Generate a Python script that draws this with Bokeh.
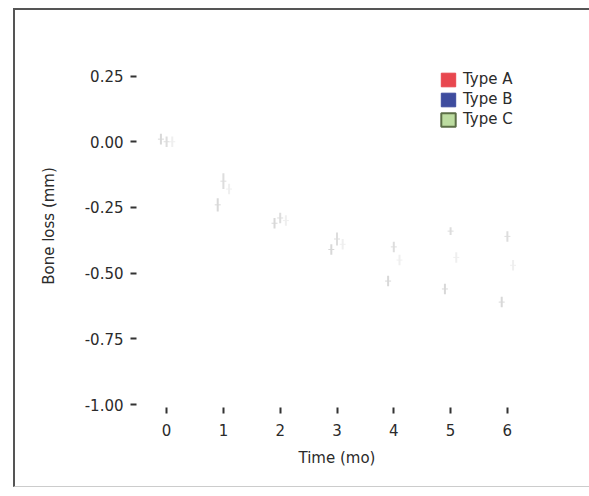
import math
from bokeh.plotting import figure
from bokeh.models import ColumnDataSource, Legend, LegendItem, FixedTicker
from bokeh.transform import dodge
from bokeh.embed import file_html
from bokeh.resources import INLINE

time_mo = [0, 1, 2, 3, 4, 5, 6]
type_a = [0.01, -0.24, -0.31, -0.41, -0.53, -0.56, -0.61]
type_b = [0.00, -0.15, -0.29, -0.37, -0.40, -0.34, -0.36]
type_c = [0.00, -0.18, -0.30, -0.39, -0.45, -0.44, -0.47]
err_a = [0.02, 0.025, 0.02, 0.02, 0.02, 0.02, 0.02]
err_b = [0.02, 0.03, 0.02, 0.025, 0.02, 0.015, 0.02]
err_c = [0.02, 0.02, 0.02, 0.02, 0.02, 0.02, 0.02]
type_names = ["Type A", "Type B", "Type C"]
y_ticks = [0.25, 0.0, -0.25, -0.5, -0.75, -1.0]
y_tick_labels = ["0.25", "0.00", "-0.25", "-0.50", "-0.75", "-1.00"]

FONT = "DejaVu Sans"
TXT = "#2b2b2b"
NAN = float("nan")

p = figure(width=582, height=479, output_backend="svg", toolbar_location=None,
           x_range=(-0.53, 6.53), y_range=(-1.011, 0.37),
           min_border_left=121, min_border_right=60, min_border_top=34,
           min_border_bottom=82)
p.styles = {"border-left": "2px solid #555", "border-top": "2px solid #555",
            "border-bottom": "1px solid #ccc", "margin-left": "13px",
            "margin-top": "8px"}
p.background_fill_color = "white"
p.border_fill_color = "white"
p.outline_line_color = None
p.grid.grid_line_color = None

series = [(type_a, err_a, -0.1, "#d8d8d8"),
          (type_b, err_b, 0.0, "#dddddd"),
          (type_c, err_c, 0.1, "#efefef")]
for vals, errs, off, col in series:
    src = ColumnDataSource(dict(
        x=time_mo, y=vals,
        lo=[v - e for v, e in zip(vals, errs)],
        hi=[v + e for v, e in zip(vals, errs)]))
    xx = dodge("x", off, range=p.x_range)
    p.segment(x0=xx, y0="lo", x1=xx, y1="hi", source=src,
              line_color=col, line_width=2)
    p.scatter(x=xx, y="y", source=src, marker="dash", angle=0,
              size=6, line_color=col, line_width=1)

# legend glyphs (invisible NaN quads used only for the legend)
legend_cols = [("#e8474f", "#e8474f"), ("#3e4c9e", "#3e4c9e"), ("#bcdca0", "#5b6e46")]
items = []
for name, (fc, lc) in zip(type_names, legend_cols):
    r = p.quad(left=[NAN], right=[NAN], top=[NAN], bottom=[NAN],
               fill_color=fc, line_color=lc,
               line_width=2 if name == "Type C" else 1)
    items.append(LegendItem(label=name, renderers=[r]))

legend = Legend(items=items, location=(303, 279), orientation="vertical")
legend.glyph_width = 18
legend.glyph_height = 17
legend.label_height = 17
legend.spacing = 2
legend.padding = 4
legend.label_standoff = 6
legend.label_text_font = FONT
legend.label_text_font_size = "15px"
legend.label_text_color = TXT
legend.border_line_color = None
legend.background_fill_alpha = 0
p.add_layout(legend)

# axes
p.xaxis.ticker = FixedTicker(ticks=time_mo)
p.yaxis.ticker = FixedTicker(ticks=y_ticks)
p.yaxis.major_label_overrides = {t: l for t, l in zip(y_ticks, y_tick_labels)}
for ax in (p.xaxis, p.yaxis):
    ax.axis_line_color = None
    ax.minor_tick_line_color = None
    ax.major_tick_in = 0
    ax.major_tick_out = 6
    ax.major_tick_line_color = "#333"
    ax.major_tick_line_width = 2
    ax.major_label_text_font = FONT
    ax.major_label_text_font_size = "15px"
    ax.major_label_text_color = TXT
    ax.axis_label_text_font = FONT
    ax.axis_label_text_font_size = "15px"
    ax.axis_label_text_font_style = "normal"
    ax.axis_label_text_color = TXT
p.xaxis.axis_label = "Time (mo)"
p.yaxis.axis_label = "Bone loss (mm)"
p.xaxis.major_label_standoff = 10
p.xaxis.axis_label_standoff = 10
p.yaxis.major_label_standoff = 7
p.yaxis.axis_label_standoff = 24

open("out.html", "w").write(file_html(p, INLINE))
